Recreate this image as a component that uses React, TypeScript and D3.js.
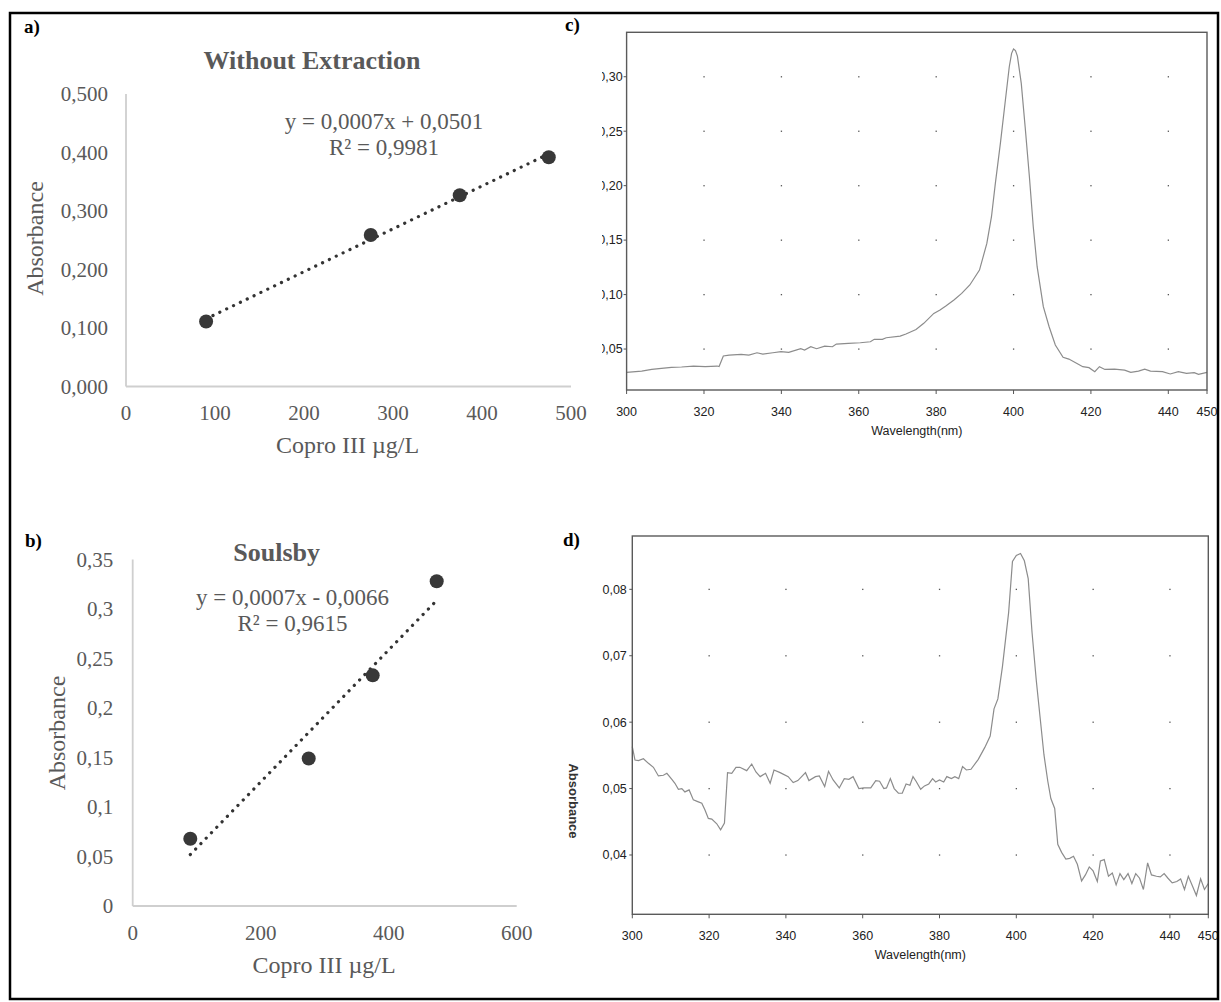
import React from 'react';
import * as d3 from 'd3';

// ---------- DATA ----------
const concentration = [90, 275, 375, 475];
const absWithoutExtraction = [0.111, 0.259, 0.327, 0.392];
const absSoulsby = [0.068, 0.149, 0.233, 0.328];

const ticksAx = [0, 100, 200, 300, 400, 500];
const ticksAy = [0, 0.1, 0.2, 0.3, 0.4, 0.5];
const ticksBx = [0, 200, 400, 600];
const ticksBy = [0, 0.05, 0.1, 0.15, 0.2, 0.25, 0.3, 0.35];

const eqA = ['y = 0,0007x + 0,0501', 'R² = 0,9981'];
const eqB = ['y = 0,0007x - 0,0066', 'R² = 0,9615'];

const specTicksX = [300, 320, 340, 360, 380, 400, 420, 440, 450];
const ticksCy = [0.05, 0.1, 0.15, 0.2, 0.25, 0.3];
const ticksDy = [0.04, 0.05, 0.06, 0.07, 0.08];

// spectrum c: [wavelength nm, absorbance]
const spectrumC: [number, number][] = [
  [300, 0.0286], [303.9, 0.0298], [306.5, 0.0313], [309, 0.0322], [311.6, 0.0332], [314.2, 0.0335],
  [317.3, 0.0344], [320.3, 0.0338], [323.4, 0.0344], [323.9, 0.034], [325, 0.0436], [326.5, 0.0445],
  [329.6, 0.0451], [331.6, 0.0445], [333.7, 0.0466], [335.2, 0.0454], [337.8, 0.0466], [339.9, 0.0476],
  [341.9, 0.047], [345, 0.0503], [346, 0.0491], [347.6, 0.0521], [349.1, 0.0503], [351.2, 0.0527],
  [353.2, 0.0521], [354.2, 0.0546], [357.3, 0.0552], [360.4, 0.0558], [363, 0.0567], [364, 0.0589],
  [366.1, 0.0589], [367.1, 0.0604], [370.7, 0.0619], [372.2, 0.0638], [374.8, 0.068], [376.8, 0.0736],
  [379.4, 0.0827], [381, 0.0858], [382.5, 0.0895], [384.6, 0.095], [386.6, 0.1011], [388.7, 0.1088],
  [391.2, 0.1225], [393.1, 0.147], [394.3, 0.1715], [395.3, 0.2021], [396.6, 0.2388], [397.9, 0.2786],
  [398.9, 0.3092], [399.5, 0.3215], [400, 0.3255], [400.5, 0.324], [401, 0.319], [402, 0.2939],
  [403, 0.2541], [404.1, 0.2082], [405.1, 0.1623], [406.1, 0.1256], [407.7, 0.0889], [409.2, 0.0705],
  [410.8, 0.0537], [412.8, 0.0424], [414.3, 0.0408], [416.4, 0.0368], [417.9, 0.0338], [419.5, 0.0329],
  [421, 0.0292], [422.2, 0.0338], [423.6, 0.0313], [426.1, 0.0316], [428.7, 0.0307], [430.3, 0.0286],
  [432.3, 0.0298], [433.9, 0.0316], [435.4, 0.0298], [438.5, 0.0292], [440.5, 0.0271], [442.6, 0.0292],
  [444.7, 0.0277], [446.7, 0.0283], [447.8, 0.0268], [450, 0.0286],
];

// spectrum d: [wavelength nm, absorbance]
const spectrumD: [number, number][] = [
  [300, 0.0563], [300.7, 0.0543], [301.6, 0.0542], [302.9, 0.0545], [304.2, 0.0538], [305.5, 0.0532],
  [306.8, 0.0519], [308.1, 0.052], [309, 0.0523], [310.3, 0.0514], [311.1, 0.0508], [312, 0.0499],
  [312.9, 0.05], [313.7, 0.0495], [314.8, 0.0498], [315.9, 0.0483], [317.2, 0.048], [318.1, 0.0478],
  [318.9, 0.0468], [319.8, 0.0455], [320.7, 0.0454], [322, 0.0447], [323, 0.0438], [324, 0.0448],
  [324.8, 0.0524], [325.9, 0.0523], [327, 0.0532], [328, 0.0532], [329.8, 0.0527], [331.1, 0.0537],
  [332.2, 0.0525], [333.3, 0.0518], [334.7, 0.0523], [335.9, 0.0508], [336.9, 0.0528], [338.5, 0.0524],
  [340.6, 0.0518], [341.9, 0.0509], [343.1, 0.0512], [344.1, 0.0518], [345.1, 0.0524], [346, 0.0512],
  [347.7, 0.0518], [348.7, 0.0519], [350.1, 0.0503], [351.1, 0.0526], [352.3, 0.0513], [353.9, 0.0501],
  [355.2, 0.0515], [356.4, 0.0514], [357.5, 0.0518], [359, 0.05], [360.3, 0.0501], [362.1, 0.0501],
  [363.4, 0.0512], [364.4, 0.0511], [365.5, 0.05], [366.2, 0.0501], [367.2, 0.0515], [368.2, 0.05],
  [369.3, 0.0493], [370.3, 0.0493], [371.3, 0.0507], [372.3, 0.0505], [373.1, 0.0518], [373.9, 0.0511],
  [375.1, 0.0499], [376.1, 0.0504], [377.2, 0.0507], [378.2, 0.0515], [379, 0.051], [380, 0.0513],
  [381.1, 0.051], [381.9, 0.0518], [383.1, 0.0515], [384, 0.0518], [385, 0.0515], [386, 0.0533],
  [387, 0.0528], [388.2, 0.0529], [390.1, 0.0544], [391.8, 0.0562], [393.2, 0.0579], [394.2, 0.062],
  [395.2, 0.0635], [396.4, 0.0684], [398, 0.0765], [399, 0.0842], [400, 0.0851], [401.1, 0.0854],
  [402.1, 0.0843], [403.1, 0.0816], [404.1, 0.0735], [405.2, 0.0663], [406.2, 0.0607], [407.2, 0.0551],
  [408.2, 0.0511], [409, 0.0485], [410, 0.047], [410.8, 0.0416], [411.8, 0.0404], [412.9, 0.0394],
  [413.9, 0.0395], [414.9, 0.0398], [415.9, 0.0386], [417, 0.0361], [418, 0.037], [419, 0.0382],
  [420, 0.0376], [421.1, 0.036], [421.9, 0.0391], [422.9, 0.0393], [424, 0.0368], [425, 0.0373],
  [426, 0.0355], [427, 0.0372], [428, 0.0363], [429.1, 0.0372], [430.1, 0.0357], [431.1, 0.0372],
  [432.1, 0.0365], [433.1, 0.0348], [434.2, 0.0388], [435.2, 0.037], [436.5, 0.0368], [437.5, 0.0367],
  [438.5, 0.0372], [439.5, 0.0365], [440.6, 0.0358], [441.8, 0.036], [442.8, 0.0364], [443.8, 0.0348],
  [444.8, 0.0368], [445.9, 0.0353], [446.9, 0.0339], [448, 0.0364], [449, 0.0348], [450, 0.0357],
];

// ---------- STYLE ----------
const SERIF = "'Liberation Serif','Times New Roman',serif";
const SANS = "'Liberation Sans',Arial,sans-serif";
const GREY_TEXT = '#595959';
const comma = (s: string) => s.replace('.', ',');

type ScatterProps = {
  xs: number[]; ys: number[];
  xDomain: [number, number]; yDomain: [number, number];
  xRange: [number, number]; yRange: [number, number];
  xTicks: number[]; yTicks: number[]; yFmt: (v: number) => string;
  title: string; titleX: number; titleY: number;
  eq: string[]; eqX: number; eqY: number;
  xTitleX: number; xTitleY: number; yTitleX: number; yTitleY: number;
  yLabelGap: number; xLabelBaseline: number;
};

function linReg(xs: number[], ys: number[]) {
  const mx = d3.mean(xs)!; const my = d3.mean(ys)!;
  let sxy = 0, sxx = 0;
  xs.forEach((x, i) => { sxy += (x - mx) * (ys[i] - my); sxx += (x - mx) * (x - mx); });
  const slope = sxy / sxx;
  return { slope, intercept: my - slope * mx };
}

function Scatter(p: ScatterProps) {
  const x = d3.scaleLinear().domain(p.xDomain).range(p.xRange);
  const y = d3.scaleLinear().domain(p.yDomain).range(p.yRange);
  const { slope, intercept } = linReg(p.xs, p.ys);
  const [xmin, xmax] = d3.extent(p.xs) as [number, number];
  const line = d3.line<number>().x(v => x(v)).y(v => y(slope * v + intercept));
  return (
    <g>
      <line x1={x(p.xDomain[0])} x2={x(p.xDomain[0])} y1={y(p.yDomain[0])} y2={y(p.yDomain[1])} stroke="#cfcfcf" strokeWidth={1.8} />
      <line x1={x(p.xDomain[0])} x2={x(p.xDomain[1])} y1={y(p.yDomain[0])} y2={y(p.yDomain[0])} stroke="#cfcfcf" strokeWidth={1.8} />
      {p.yTicks.map(t => (
        <text key={'y' + t} x={x(p.xDomain[0]) - p.yLabelGap} y={y(t)} dy="0.34em" textAnchor="end"
          fontFamily={SERIF} fontSize={21} fill={GREY_TEXT}>{p.yFmt(t)}</text>
      ))}
      {p.xTicks.map(t => (
        <text key={'x' + t} x={x(t)} y={p.xLabelBaseline} textAnchor="middle"
          fontFamily={SERIF} fontSize={21} fill={GREY_TEXT}>{t}</text>
      ))}
      <path d={line([xmin, xmax]) || ''} fill="none" stroke="#333" strokeWidth={3.2}
        strokeDasharray="0.1 7.5" strokeLinecap="round" />
      {p.xs.map((v, i) => (
        <circle key={i} cx={x(v)} cy={y(p.ys[i])} r={7} fill="#383838" />
      ))}
      <text x={p.titleX} y={p.titleY} textAnchor="middle" fontFamily={SERIF} fontWeight="bold"
        fontSize={26} fill={GREY_TEXT}>{p.title}</text>
      {p.eq.map((s, i) => (
        <text key={s} x={p.eqX} y={p.eqY + i * 26} textAnchor="middle" fontFamily={SERIF}
          fontSize={23} fill={GREY_TEXT}>{s}</text>
      ))}
      <text x={p.xTitleX} y={p.xTitleY} textAnchor="middle" fontFamily={SERIF} fontSize={24}
        fill={GREY_TEXT}>Copro III µg/L</text>
      <text transform={`translate(${p.yTitleX},${p.yTitleY}) rotate(-90)`} textAnchor="middle"
        fontFamily={SERIF} fontSize={24} fill={GREY_TEXT}>Absorbance</text>
    </g>
  );
}

type SpecProps = {
  data: [number, number][];
  xRange: [number, number]; yRange: [number, number]; yDomain: [number, number];
  yTicks: number[]; yLabelGap: number;
};

function Spectrum(p: SpecProps) {
  const x = d3.scaleLinear().domain([300, 450]).range(p.xRange);
  const y = d3.scaleLinear().domain(p.yDomain).range(p.yRange);
  const line = d3.line<[number, number]>().x(d => x(d[0])).y(d => y(d[1]));
  const [x0, x1] = p.xRange; const [yb, yt] = p.yRange;
  const fmt = d3.format('.2f');
  const gridX = specTicksX.filter(t => t > 300 && t < 450);
  return (
    <g>
      {gridX.map(gx => p.yTicks.map(gy => (
        <rect key={gx + '-' + gy} x={x(gx) - 0.6} y={y(gy) - 0.6} width={1.3} height={1.3} fill="#555" />
      )))}
      <path d={line(p.data) || ''} fill="none" stroke="#8c8c8c" strokeWidth={1.2} />
      <rect x={x0} y={yt} width={x1 - x0} height={yb - yt} fill="none" stroke="#5a5a5a" strokeWidth={1.4} />
      {p.yTicks.map(t => (
        <g key={'y' + t}>
          <line x1={x0 - 3} x2={x0} y1={y(t)} y2={y(t)} stroke="#555" />
          <text x={x0 - p.yLabelGap} y={y(t)} dy="0.35em" textAnchor="end" fontFamily={SANS}
            fontSize={12.5} fill="#222">{comma(fmt(t))}</text>
        </g>
      ))}
      {specTicksX.map(t => (
        <g key={'x' + t}>
          <line x1={x(t)} x2={x(t)} y1={yb} y2={yb + 4} stroke="#555" />
          <text x={x(t)} y={yb + 25.5} textAnchor="middle" fontFamily={SANS} fontSize={12.5} fill="#222">{t}</text>
        </g>
      ))}
      <text x={(x0 + x1) / 2} y={yb + 44.5} textAnchor="middle" fontFamily={SANS} fontSize={12.5} fill="#222">Wavelength(nm)</text>
    </g>
  );
}

export default function App() {
  return (
    <svg width={1221} height={1002} style={{ position: 'absolute', left: 0, top: 0, background: '#fff' }}>
      <defs>
        <clipPath id="rightCol">
          <rect x={602} y={0} width={620} height={1002} />
        </clipPath>
      </defs>
      <rect x={0} y={0} width={1221} height={1002} fill="#fff" />

      <Scatter xs={concentration} ys={absWithoutExtraction}
        xDomain={[0, 500]} yDomain={[0, 0.5]} xRange={[126, 571]} yRange={[386.5, 94]}
        xTicks={ticksAx} yTicks={ticksAy} yFmt={v => comma(d3.format('.3f')(v))}
        title="Without Extraction" titleX={312} titleY={69}
        eq={eqA} eqX={384} eqY={129}
        xTitleX={347.5} xTitleY={453} yTitleX={43} yTitleY={238.5}
        yLabelGap={18} xLabelBaseline={420} />

      <Scatter xs={concentration} ys={absSoulsby}
        xDomain={[0, 600]} yDomain={[0, 0.35]} xRange={[132.7, 516.7]} yRange={[906, 559.5]}
        xTicks={ticksBx} yTicks={ticksBy} yFmt={v => comma(String(v))}
        title="Soulsby" titleX={276.7} titleY={561}
        eq={eqB} eqX={292.5} eqY={605}
        xTitleX={324} xTitleY={973} yTitleX={65} yTitleY={733}
        yLabelGap={19.5} xLabelBaseline={940} />

      <g clipPath="url(#rightCol)">
        <Spectrum data={spectrumC} xRange={[626.6, 1207]} yRange={[390, 32.3]} yDomain={[0.0124, 0.3408]}
          yTicks={ticksCy} yLabelGap={4} />
        <Spectrum data={spectrumD} xRange={[632.3, 1208.3]} yRange={[914.3, 536]} yDomain={[0.03107, 0.08803]}
          yTicks={ticksDy} yLabelGap={5.5} />
      </g>
      <text transform="translate(569,801) rotate(90)" textAnchor="middle" fontFamily={SANS} fontSize={13}
        fontWeight="bold" fill="#333">Absorbance</text>

      <text x={24} y={33} fontFamily={SERIF} fontWeight="bold" fontSize={19} fill="#000">a)</text>
      <text x={565} y={31} fontFamily={SERIF} fontWeight="bold" fontSize={19} fill="#000">c)</text>
      <text x={25} y={547} fontFamily={SERIF} fontWeight="bold" fontSize={19} fill="#000">b)</text>
      <text x={563} y={546} fontFamily={SERIF} fontWeight="bold" fontSize={19} fill="#000">d)</text>

      <rect x={10} y={13} width={1208} height={986} fill="none" stroke="#000" strokeWidth={2.5} />
    </svg>
  );
}
